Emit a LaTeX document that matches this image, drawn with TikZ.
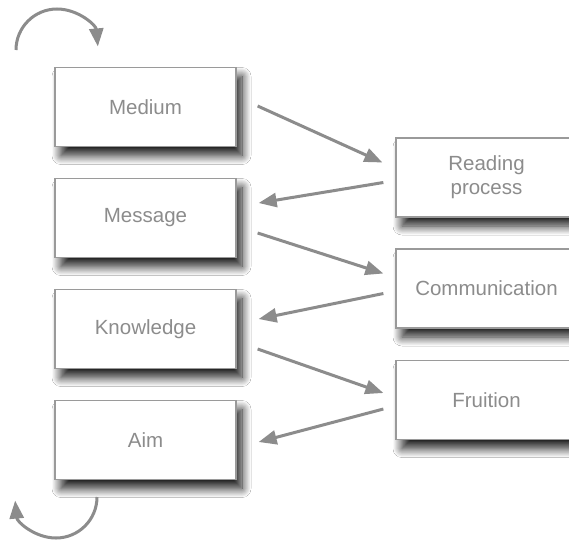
\documentclass[tikz,border=0pt]{standalone}
\usepackage{fontspec}
\setmainfont{Liberation Sans}
\usepackage{tikz}
\usetikzlibrary{arrows.meta}
\usetikzlibrary{shadows.blur}
\usetikzlibrary{positioning}
\definecolor{linegray}{HTML}{8C8C8C}
\definecolor{framegray}{HTML}{9A9A9A}
\tikzset{
	stagebox/.style = {draw = framegray, line width = 1.3pt, fill = white,
		minimum width = 181pt, minimum height = 79pt, inner sep = 0pt,
		align = center, text = linegray,
		font = \fontsize{20.5}{24}\selectfont,
		blur shadow = {shadow xshift = 6pt, shadow yshift = -9pt,
			shadow blur radius = 9pt, shadow blur steps = 16,
			shadow opacity = 90}},
	flow/.style = {draw = linegray, line width = 3pt,
		-{Triangle[length = 18pt, width = 14pt]}}
}

\begin{document}
\begin{tikzpicture}[x = 1pt, y = 1pt]

	\useasboundingbox[fill = white] (0,0) rectangle (569,-541);

	% left column
	\node[stagebox] (medium) at (145.5,-107) {Medium};
	\node[stagebox] (message) at (145.5,-218) {Message};
	\node[stagebox] (knowledge) at (145.5,-329) {Knowledge};
	\node[stagebox] (aim) at (145.5,-440) {Aim};

	% right column
	\node[stagebox] (reading) at (486.5,-177.5) {Reading\\process};
	\node[stagebox] (communication) at (486.5,-288.5) {Communication};
	\node[stagebox] (fruition) at (486.5,-400) {Fruition};

	% zig-zag between the columns
	\draw[flow] ([xshift = 21pt, yshift = 1pt]medium.east) -- ([xshift = -13pt, yshift = 15pt]reading.west);
	\draw[flow] ([xshift = -12pt, yshift = -5pt]reading.west) -- ([xshift = 22pt, yshift = 15pt]message.east);
	\draw[flow] ([xshift = 21pt, yshift = -15pt]message.east) -- ([xshift = -12pt, yshift = 15pt]communication.west);
	\draw[flow] ([xshift = -12pt, yshift = -5pt]communication.west) -- ([xshift = 22pt, yshift = 10pt]knowledge.east);
	\draw[flow] ([xshift = 21pt, yshift = -20pt]knowledge.east) -- ([xshift = -12pt, yshift = 7pt]fruition.west);
	\draw[flow] ([xshift = -12pt, yshift = -9pt]fruition.west) -- ([xshift = 22pt, yshift = -2pt]aim.east);

	% loops at both ends
	\coordinate (toploop) at (16,-50);
	\coordinate (bottomloop) at (97,-497);
	\draw[flow] (toploop) arc[start angle = 180, end angle = 5, radius = 41];
	\draw[flow] (bottomloop) arc[start angle = 0, end angle = -175, radius = 41];

\end{tikzpicture}
\end{document}
